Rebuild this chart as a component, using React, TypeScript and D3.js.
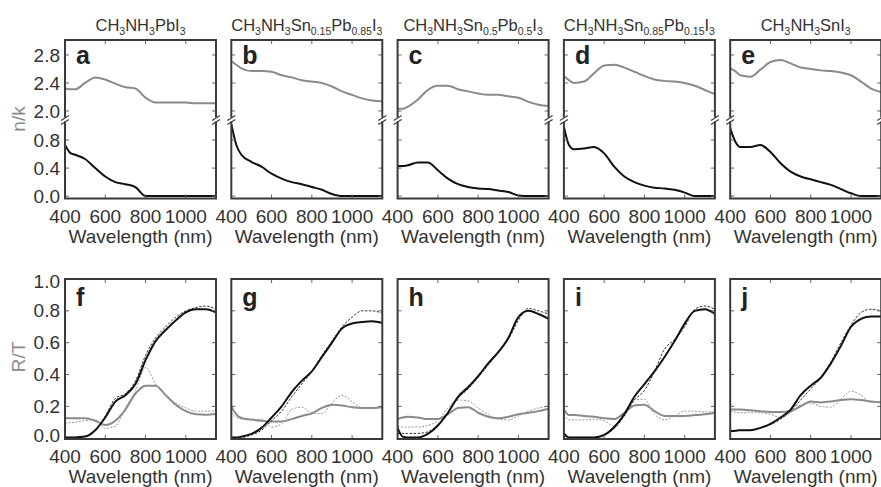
import React, { useEffect, useRef } from 'react';
import * as d3 from 'd3';

// shared wavelength grid (nm)
const wavelengths = [400, 425, 450, 500, 550, 600, 650, 700, 750, 800, 850, 900, 950, 1000, 1050, 1100, 1150];

const titles = [
    'CH{3}NH{3}PbI{3}',
    'CH{3}NH{3}Sn{0.15}Pb{0.85}I{3}',
    'CH{3}NH{3}Sn{0.5}Pb{0.5}I{3}',
    'CH{3}NH{3}Sn{0.85}Pb{0.15}I{3}',
    'CH{3}NH{3}SnI{3}'
];
const topLetters = ['a', 'b', 'c', 'd', 'e'];
const bottomLetters = ['f', 'g', 'h', 'i', 'j'];

// refractive index n (gray, upper part of broken axis)
const nA = [2.32, 2.31, 2.31, 2.40, 2.48, 2.45, 2.39, 2.34, 2.32, 2.19, 2.12, 2.12, 2.12, 2.12, 2.11, 2.11, 2.11];
const nB = [2.71, 2.66, 2.61, 2.57, 2.57, 2.56, 2.51, 2.48, 2.44, 2.42, 2.40, 2.35, 2.28, 2.23, 2.18, 2.15, 2.14];
const nC = [2.03, 2.03, 2.06, 2.16, 2.30, 2.36, 2.36, 2.31, 2.28, 2.25, 2.23, 2.23, 2.21, 2.19, 2.13, 2.09, 2.07];
const nD = [2.50, 2.44, 2.40, 2.42, 2.54, 2.65, 2.66, 2.62, 2.56, 2.50, 2.45, 2.43, 2.42, 2.40, 2.36, 2.30, 2.24];
const nE = [2.61, 2.57, 2.51, 2.49, 2.59, 2.70, 2.73, 2.68, 2.62, 2.60, 2.58, 2.57, 2.55, 2.51, 2.42, 2.32, 2.27];

// extinction coefficient k (black, lower part)
const kA = [0.73, 0.62, 0.59, 0.53, 0.40, 0.28, 0.20, 0.17, 0.13, 0.0, 0.0, 0.0, 0.0, 0.0, 0.0, 0.0, 0.0];
const kB = [1.03, 0.73, 0.59, 0.49, 0.42, 0.32, 0.25, 0.20, 0.17, 0.13, 0.09, 0.03, 0.0, 0.0, 0.0, 0.0, 0.0];
const kC = [0.43, 0.43, 0.44, 0.48, 0.48, 0.37, 0.25, 0.17, 0.13, 0.11, 0.10, 0.08, 0.06, 0.01, 0.0, 0.0, 0.0];
const kD = [0.99, 0.73, 0.67, 0.68, 0.70, 0.61, 0.42, 0.28, 0.20, 0.15, 0.12, 0.11, 0.09, 0.05, 0.0, 0.0, 0.0];
const kE = [0.97, 0.78, 0.70, 0.70, 0.73, 0.63, 0.47, 0.35, 0.28, 0.24, 0.20, 0.16, 0.10, 0.04, 0.0, 0.0, 0.0];

// transmittance, measured (solid) and fitted (dashed)
const tF = [0.005, 0.005, 0.005, 0.01, 0.05, 0.13, 0.23, 0.27, 0.34, 0.49, 0.61, 0.68, 0.74, 0.79, 0.81, 0.81, 0.79];
const tG = [0.005, 0.005, 0.01, 0.027, 0.065, 0.13, 0.20, 0.29, 0.36, 0.42, 0.51, 0.60, 0.69, 0.72, 0.73, 0.735, 0.725];
const tH = [0.065, 0.01, 0.005, 0.005, 0.027, 0.08, 0.16, 0.26, 0.32, 0.39, 0.47, 0.54, 0.63, 0.76, 0.80, 0.78, 0.75];
const tI = [0.03, 0.005, 0.005, 0.005, 0.005, 0.02, 0.07, 0.15, 0.26, 0.34, 0.42, 0.51, 0.61, 0.72, 0.80, 0.81, 0.78];
const tJ = [0.045, 0.047, 0.05, 0.05, 0.065, 0.09, 0.13, 0.18, 0.27, 0.33, 0.38, 0.47, 0.58, 0.70, 0.75, 0.765, 0.765];

const tFitF = [0.005, 0.005, 0.005, 0.01, 0.05, 0.14, 0.25, 0.28, 0.36, 0.52, 0.63, 0.70, 0.76, 0.80, 0.82, 0.83, 0.81];
const tFitG = [0.005, 0.005, 0.005, 0.02, 0.05, 0.11, 0.17, 0.26, 0.34, 0.42, 0.52, 0.61, 0.70, 0.76, 0.80, 0.80, 0.785];
const tFitH = [0.03, 0.03, 0.03, 0.03, 0.04, 0.085, 0.16, 0.25, 0.31, 0.38, 0.46, 0.54, 0.62, 0.74, 0.815, 0.80, 0.78];
const tFitI = [0.015, 0.005, 0.005, 0.005, 0.005, 0.02, 0.06, 0.14, 0.24, 0.30, 0.42, 0.56, 0.62, 0.70, 0.81, 0.83, 0.81];
const tFitJ = [0.045, 0.047, 0.05, 0.05, 0.065, 0.085, 0.12, 0.17, 0.24, 0.31, 0.38, 0.48, 0.60, 0.71, 0.79, 0.81, 0.80];

// reflectance, measured (gray solid) and fitted (gray dashed)
const rF = [0.127, 0.126, 0.125, 0.125, 0.11, 0.083, 0.11, 0.18, 0.28, 0.33, 0.33, 0.27, 0.21, 0.17, 0.15, 0.147, 0.152];
const rG = [0.20, 0.15, 0.127, 0.117, 0.11, 0.105, 0.105, 0.12, 0.14, 0.155, 0.19, 0.21, 0.205, 0.195, 0.19, 0.19, 0.195];
const rH = [0.12, 0.13, 0.135, 0.13, 0.12, 0.12, 0.15, 0.19, 0.195, 0.16, 0.135, 0.125, 0.135, 0.15, 0.16, 0.17, 0.185];
const rI = [0.18, 0.145, 0.145, 0.14, 0.135, 0.125, 0.12, 0.16, 0.205, 0.21, 0.17, 0.14, 0.14, 0.14, 0.145, 0.15, 0.16];
const rJ = [0.18, 0.18, 0.18, 0.175, 0.17, 0.165, 0.165, 0.17, 0.20, 0.23, 0.225, 0.23, 0.24, 0.245, 0.24, 0.23, 0.225];

const rFitF = [0.095, 0.097, 0.10, 0.11, 0.115, 0.062, 0.075, 0.19, 0.30, 0.445, 0.34, 0.27, 0.22, 0.19, 0.17, 0.17, 0.17];
const rFitG = [0.16, 0.13, 0.12, 0.115, 0.12, 0.07, 0.09, 0.18, 0.195, 0.16, 0.155, 0.22, 0.27, 0.23, 0.19, 0.185, 0.195];
const rFitH = [0.072, 0.07, 0.07, 0.07, 0.08, 0.11, 0.19, 0.24, 0.235, 0.19, 0.15, 0.12, 0.115, 0.14, 0.17, 0.19, 0.20];
const rFitI = [0.15, 0.115, 0.115, 0.115, 0.12, 0.11, 0.075, 0.15, 0.24, 0.245, 0.15, 0.115, 0.14, 0.17, 0.17, 0.165, 0.165];
const rFitJ = [0.17, 0.165, 0.16, 0.16, 0.16, 0.15, 0.13, 0.16, 0.21, 0.22, 0.20, 0.195, 0.245, 0.295, 0.27, 0.225, 0.225];

const nSeries = [nA, nB, nC, nD, nE];
const kSeries = [kA, kB, kC, kD, kE];
const tSeries = [tF, tG, tH, tI, tJ];
const tFitSeries = [tFitF, tFitG, tFitH, tFitI, tFitJ];
const rSeries = [rF, rG, rH, rI, rJ];
const rFitSeries = [rFitF, rFitG, rFitH, rFitI, rFitJ];

const xTicks = [400, 600, 800, 1000];
const nTicks = [2.0, 2.4, 2.8];
const kTicks = [0.0, 0.4, 0.8];
const rtTicks = [0.0, 0.2, 0.4, 0.6, 0.8, 1.0];

const W = 881;
const H = 487;
const FONT = '"Liberation Sans", Arial, Helvetica, sans-serif';

const panelLeft = 65;
const panelPitch = 166.3;
const panelW = 151;
const top1 = 40;
const breakY = 120;
const bottom1 = 198.5;
const top2 = 279;
const bottom2 = 439;

const border = '#3a3a3a';
const tickColor = '#666';
const labelColor = '#333';

const parseFormula = (s: string) =>
    s.split(/(\{[^}]*\})/).filter(Boolean).map(p =>
        p.startsWith('{') ? { text: p.slice(1, -1), sub: true } : { text: p, sub: false });

const App = () => {
    const svgRef = useRef<SVGSVGElement>(null);

    useEffect(() => {
        const svg = d3.select(svgRef.current);
        svg.selectAll('*').remove();
        const defs = svg.append('defs');

        const yN = d3.scaleLinear().domain([1.871, 3.014]).range([breakY, top1]);
        const yK = d3.scaleLinear().domain([-0.034, 1.086]).range([bottom1, breakY]);
        const yRT = d3.scaleLinear().domain([-0.005, 1.0]).range([bottom2, top2]);

        const drawBox = (g, left, right, top, bottom) => {
            g.append('rect')
                .attr('x', left).attr('y', top)
                .attr('width', right - left).attr('height', bottom - top)
                .attr('fill', 'none')
                .attr('stroke', border)
                .attr('stroke-width', 2);
        };

        const drawTicks = (g, x, left, right, top, bottom, yVals) => {
            xTicks.filter(t => t > 400).forEach(t => {
                g.append('line').attr('x1', x(t)).attr('x2', x(t)).attr('y1', bottom).attr('y2', bottom - 4)
                    .attr('stroke', tickColor).attr('stroke-width', 1);
                g.append('line').attr('x1', x(t)).attr('x2', x(t)).attr('y1', top).attr('y2', top + 4)
                    .attr('stroke', tickColor).attr('stroke-width', 1);
            });
            yVals.forEach(yy => {
                g.append('line').attr('x1', left).attr('x2', left + 4).attr('y1', yy).attr('y2', yy)
                    .attr('stroke', tickColor).attr('stroke-width', 1);
                g.append('line').attr('x1', right).attr('x2', right - 4).attr('y1', yy).attr('y2', yy)
                    .attr('stroke', tickColor).attr('stroke-width', 1);
            });
        };

        const drawXLabels = (g, x, baseline, center) => {
            g.append('g').selectAll('text')
                .data(xTicks)
                .join('text')
                .attr('x', d => x(d))
                .attr('y', baseline)
                .attr('text-anchor', 'middle')
                .attr('font-family', FONT)
                .attr('font-size', 19)
                .attr('fill', labelColor)
                .text(d => d);
            g.append('text')
                .attr('x', center)
                .attr('y', baseline + 20.5)
                .attr('text-anchor', 'middle')
                .attr('font-family', FONT)
                .attr('font-size', 19)
                .attr('fill', labelColor)
                .text('Wavelength (nm)');
        };

        const drawLetter = (g, left, baseline, letter) => {
            g.append('text')
                .attr('x', left + 11)
                .attr('y', baseline)
                .attr('font-family', FONT)
                .attr('font-weight', 'bold')
                .attr('font-size', 25)
                .attr('fill', '#222')
                .text(letter);
        };

        titles.forEach((title, i) => {
            const left = panelLeft + i * panelPitch;
            const right = left + panelW;
            const center = (left + right) / 2;
            const x = d3.scaleLinear().domain([400, 1150]).range([left, right]);

            // ---------- top row: n / k ----------
            const gTop = svg.append('g').attr('class', 'panel-top');

            const tt = gTop.append('text')
                .attr('x', center)
                .attr('y', 31)
                .attr('text-anchor', 'middle')
                .attr('font-family', FONT)
                .attr('font-size', 16.5)
                .attr('fill', labelColor);
            let shifted = false;
            parseFormula(title).forEach(p => {
                const span = tt.append('tspan').text(p.text);
                if (p.sub) {
                    span.attr('font-size', 10.5);
                    if (!shifted) { span.attr('dy', 4); shifted = true; }
                } else if (shifted) {
                    span.attr('dy', -4); shifted = false;
                }
            });

            defs.append('clipPath').attr('id', `clip-top-${i}`)
                .append('rect').attr('x', left).attr('y', top1).attr('width', panelW).attr('height', bottom1 - top1);
            defs.append('clipPath').attr('id', `clip-bot-${i}`)
                .append('rect').attr('x', left).attr('y', top2).attr('width', panelW).attr('height', bottom2 - top2);

            const lineN = d3.line<number>()
                .x((d, j) => x(wavelengths[j]))
                .y(d => yN(d))
                .curve(d3.curveMonotoneX);
            const lineK = d3.line<number>()
                .x((d, j) => x(wavelengths[j]))
                .y(d => yK(d))
                .curve(d3.curveMonotoneX);

            const plotTop = gTop.append('g').attr('clip-path', `url(#clip-top-${i})`);
            plotTop.append('path')
                .attr('d', lineN(nSeries[i]))
                .attr('fill', 'none').attr('stroke', '#8a8a8a').attr('stroke-width', 2);
            plotTop.append('path')
                .attr('d', lineK(kSeries[i]))
                .attr('fill', 'none').attr('stroke', '#111').attr('stroke-width', 2);

            drawTicks(gTop, x, left, right, top1, bottom1, [...nTicks.map(yN), ...kTicks.map(yK)]);
            drawBox(gTop, left, right, top1, bottom1);

            // axis break marks
            [left, right].forEach(ex => {
                gTop.append('rect').attr('x', ex - 4).attr('y', breakY - 2.5).attr('width', 8).attr('height', 4)
                    .attr('fill', '#fff');
                [-2, 2].forEach(off => {
                    gTop.append('line')
                        .attr('x1', ex - 4).attr('y1', breakY + off + 2.5)
                        .attr('x2', ex + 4).attr('y2', breakY + off - 2.5)
                        .attr('stroke', border).attr('stroke-width', 1.2);
                });
            });

            drawLetter(gTop, left, 63.5, topLetters[i]);
            drawXLabels(gTop, x, 222.5, center);

            if (i === 0) {
                const ylab = gTop.append('g');
                [...nTicks.map(t => ({ t, y: yN(t) })), ...kTicks.map(t => ({ t, y: yK(t) }))].forEach(d => {
                    ylab.append('text')
                        .attr('x', left - 5)
                        .attr('y', d.y)
                        .attr('dy', '0.35em')
                        .attr('text-anchor', 'end')
                        .attr('font-family', FONT)
                        .attr('font-size', 19)
                        .attr('fill', labelColor)
                        .text(d.t.toFixed(1));
                });
                ylab.append('text')
                    .attr('transform', `translate(25, ${breakY - 1}) rotate(-90)`)
                    .attr('text-anchor', 'middle')
                    .attr('font-family', FONT)
                    .attr('font-size', 19)
                    .attr('fill', '#8a8a8a')
                    .text('n/k');
            }

            // ---------- bottom row: R / T ----------
            const gBot = svg.append('g').attr('class', 'panel-bottom');
            const lineRT = d3.line<number>()
                .x((d, j) => x(wavelengths[j]))
                .y(d => yRT(d))
                .curve(d3.curveMonotoneX);

            const plotBot = gBot.append('g').attr('clip-path', `url(#clip-bot-${i})`);
            plotBot.append('path')
                .attr('d', lineRT(rSeries[i]))
                .attr('fill', 'none').attr('stroke', '#8a8a8a').attr('stroke-width', 2);
            plotBot.append('path')
                .attr('d', lineRT(rFitSeries[i]))
                .attr('fill', 'none').attr('stroke', '#999').attr('stroke-width', 1)
                .attr('stroke-dasharray', '2,1.5');
            plotBot.append('path')
                .attr('d', lineRT(tFitSeries[i]))
                .attr('fill', 'none').attr('stroke', '#333').attr('stroke-width', 1)
                .attr('stroke-dasharray', '2.5,1.5');
            plotBot.append('path')
                .attr('d', lineRT(tSeries[i]))
                .attr('fill', 'none').attr('stroke', '#111').attr('stroke-width', 2);

            drawTicks(gBot, x, left, right, top2, bottom2, rtTicks.filter(t => t > 0 && t < 1).map(yRT));
            drawBox(gBot, left, right, top2, bottom2);
            drawLetter(gBot, left, 305.5, bottomLetters[i]);
            drawXLabels(gBot, x, 462.5, center);

            if (i === 0) {
                const ylab = gBot.append('g');
                rtTicks.forEach(t => {
                    const yy = Math.max(top2 + 2.5, Math.min(bottom2 - 4, yRT(t)));
                    ylab.append('text')
                        .attr('x', left - 5)
                        .attr('y', yy)
                        .attr('dy', '0.35em')
                        .attr('text-anchor', 'end')
                        .attr('font-family', FONT)
                        .attr('font-size', 19)
                        .attr('fill', labelColor)
                        .text(t.toFixed(1));
                });
                ylab.append('text')
                    .attr('transform', `translate(25, 357) rotate(-90)`)
                    .attr('text-anchor', 'middle')
                    .attr('font-family', FONT)
                    .attr('font-size', 19)
                    .attr('fill', '#8a8a8a')
                    .text('R/T');
            }
        });
    }, []);

    return (
        <svg
            ref={svgRef}
            width={W}
            height={H}
            style={{ position: 'absolute', left: 0, top: 0, background: '#fff' }}
        />
    );
};

export default App;
